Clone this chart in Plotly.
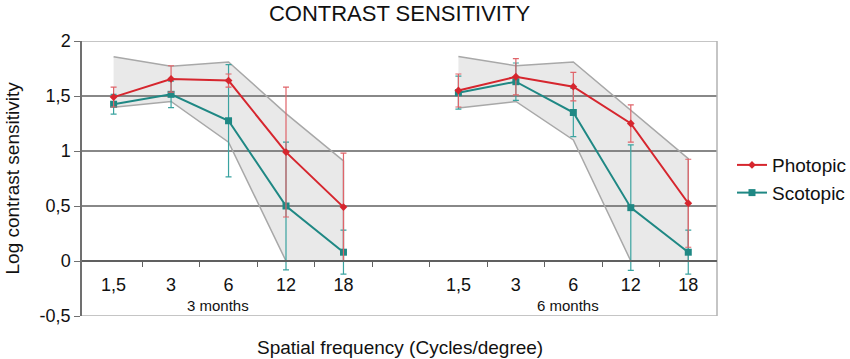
import plotly.graph_objects as go

# ---- data ----
freq_labels = ["1,5", "3", "6", "12", "18"]
x_3m = [0, 1, 2, 3, 4]
x_6m = [6, 7, 8, 9, 10]

photopic_3m = [1.49, 1.655, 1.64, 0.99, 0.49]
photopic_3m_err = [0.09, 0.12, 0.06, 0.59, 0.49]
scotopic_3m = [1.425, 1.515, 1.275, 0.50, 0.08]
scotopic_3m_err = [0.09, 0.12, 0.51, 0.58, 0.20]

photopic_6m = [1.55, 1.675, 1.585, 1.25, 0.525]
photopic_6m_err = [0.15, 0.165, 0.13, 0.17, 0.40]
scotopic_6m = [1.53, 1.63, 1.35, 0.485, 0.08]
scotopic_6m_err = [0.15, 0.17, 0.22, 0.57, 0.20]

band_3m_upper = [1.857, 1.77, 1.81, 1.34, 0.91]
band_3m_lower = [1.397, 1.45, 1.08, 0.0, 0.0]
band_6m_upper = [1.86, 1.775, 1.81, 1.37, 0.93]
band_6m_lower = [1.39, 1.45, 1.10, 0.0, 0.0]

y_ticks = [-0.5, 0, 0.5, 1, 1.5, 2]
y_ticktext = ["-0,5", "0", "0,5", "1", "1,5", "2"]
dark_grid = [0.5, 1, 1.5]
light_grid = [-0.5, 2]

RED = "#d6262e"
TEAL = "#1f8884"
RED_ERR = "#e0646a"
TEAL_ERR = "#3aa3a0"
FONT = "Liberation Sans, Arial, sans-serif"

fig = go.Figure()

# bands
for xs, up, lo in [(x_3m, band_3m_upper, band_3m_lower), (x_6m, band_6m_upper, band_6m_lower)]:
    fig.add_trace(go.Scatter(
        x=xs + xs[::-1], y=up + lo[::-1], mode="lines", fill="toself",
        fillcolor="rgba(120,120,120,0.16)", line=dict(color="#a8a8a8", width=1.5),
        showlegend=False, hoverinfo="skip"))

def add_series(xs, ys, err, name, color, ecolor, symbol, size, show):
    fig.add_trace(go.Scatter(
        x=xs, y=ys, mode="lines+markers", name=name, legendgroup=name,
        showlegend=show,
        line=dict(color=color, width=2),
        marker=dict(symbol=symbol, size=size, color=color),
        error_y=dict(type="data", array=err, color=ecolor, thickness=1.2, width=3)))

add_series(x_3m, scotopic_3m, scotopic_3m_err, "Scotopic", TEAL, TEAL_ERR, "square", 7, False)
add_series(x_6m, scotopic_6m, scotopic_6m_err, "Scotopic", TEAL, TEAL_ERR, "square", 7, False)
add_series(x_3m, photopic_3m, photopic_3m_err, "Photopic", RED, RED_ERR, "diamond", 6, True)
add_series(x_6m, photopic_6m, photopic_6m_err, "Photopic", RED, RED_ERR, "diamond", 6, False)
# legend entry for scotopic (ordering after photopic)
fig.add_trace(go.Scatter(x=[None], y=[None], mode="lines+markers", name="Scotopic",
                         line=dict(color=TEAL, width=2),
                         marker=dict(symbol="square", size=7, color=TEAL), showlegend=True))

shapes = []
for g in dark_grid:
    shapes.append(dict(type="line", xref="paper", x0=0, x1=1, yref="y", y0=g, y1=g,
                       line=dict(color="#606060", width=1.3), layer="below"))
for g in light_grid:
    shapes.append(dict(type="line", xref="paper", x0=0, x1=1, yref="y", y0=g, y1=g,
                       line=dict(color="#b2b2b2", width=1.5), layer="below"))
shapes.append(dict(type="line", xref="paper", x0=1, x1=1, yref="y", y0=-0.5, y1=2,
                   line=dict(color="#b2b2b2", width=1.5), layer="below"))

tickvals = x_3m + x_6m
ticktext = freq_labels + freq_labels
minor_vals = [v + 0.5 for v in range(0, 10)]

fig.update_layout(
    width=850, height=359, autosize=False,
    margin=dict(l=82, r=133, t=41, b=43, autoexpand=False),
    paper_bgcolor="white", plot_bgcolor="white",
    font=dict(family=FONT, color="#111111"),
    title=dict(text="CONTRAST SENSITIVITY", x=0.5, xref="paper", xanchor="center",
               y=1 - 13 / 359, yanchor="middle", font=dict(size=22, color="#111111")),
    showlegend=True,
    legend=dict(x=1.0236, y=0.618, xanchor="left", yanchor="top", font=dict(size=19),
                bgcolor="rgba(0,0,0,0)", itemwidth=30, tracegroupgap=0),
    xaxis=dict(range=[-0.55, 10.5], anchor="free", position=0.2,
               tickvals=tickvals, ticktext=ticktext, ticks="",
               tickfont=dict(size=18), ticklabelstandoff=8,
               showline=True, linecolor="#606060", linewidth=1.5,
               showgrid=False, zeroline=False,
               minor=dict(tickvals=minor_vals, ticks="outside", ticklen=5,
                          tickcolor="#606060", tickwidth=1.2, showgrid=False)),
    yaxis=dict(range=[-0.5, 2], tickvals=y_ticks, ticktext=y_ticktext,
               ticks="outside", ticklen=6, tickcolor="#707070", tickwidth=1.2,
               tickfont=dict(size=18), showline=True, linecolor="#707070", linewidth=1.5,
               showgrid=False, zeroline=False),
    shapes=shapes,
    annotations=[
        dict(text="Spatial frequency (Cycles/degree)", xref="paper", yref="paper",
             x=0.5, y=(316 - 347) / 275, xanchor="center", yanchor="middle",
             showarrow=False, font=dict(size=19)),
        dict(text="Log contrast sensitivity", xref="paper", yref="paper",
             x=(12 - 82) / 635, y=0.5, xanchor="center", yanchor="middle", textangle=-90,
             showarrow=False, font=dict(size=19)),
        dict(text="3 months", xref="x", yref="paper", x=1.81, y=(316 - 305) / 275,
             xanchor="center", yanchor="middle", showarrow=False, font=dict(size=15)),
        dict(text="6 months", xref="x", yref="paper", x=7.9, y=(316 - 305) / 275,
             xanchor="center", yanchor="middle", showarrow=False, font=dict(size=15)),
    ],
)

fig.write_html(
    "out.html",
    config={"displayModeBar": False},
    post_script="document.body.style.margin='0';document.body.style.overflow='hidden';",
)
